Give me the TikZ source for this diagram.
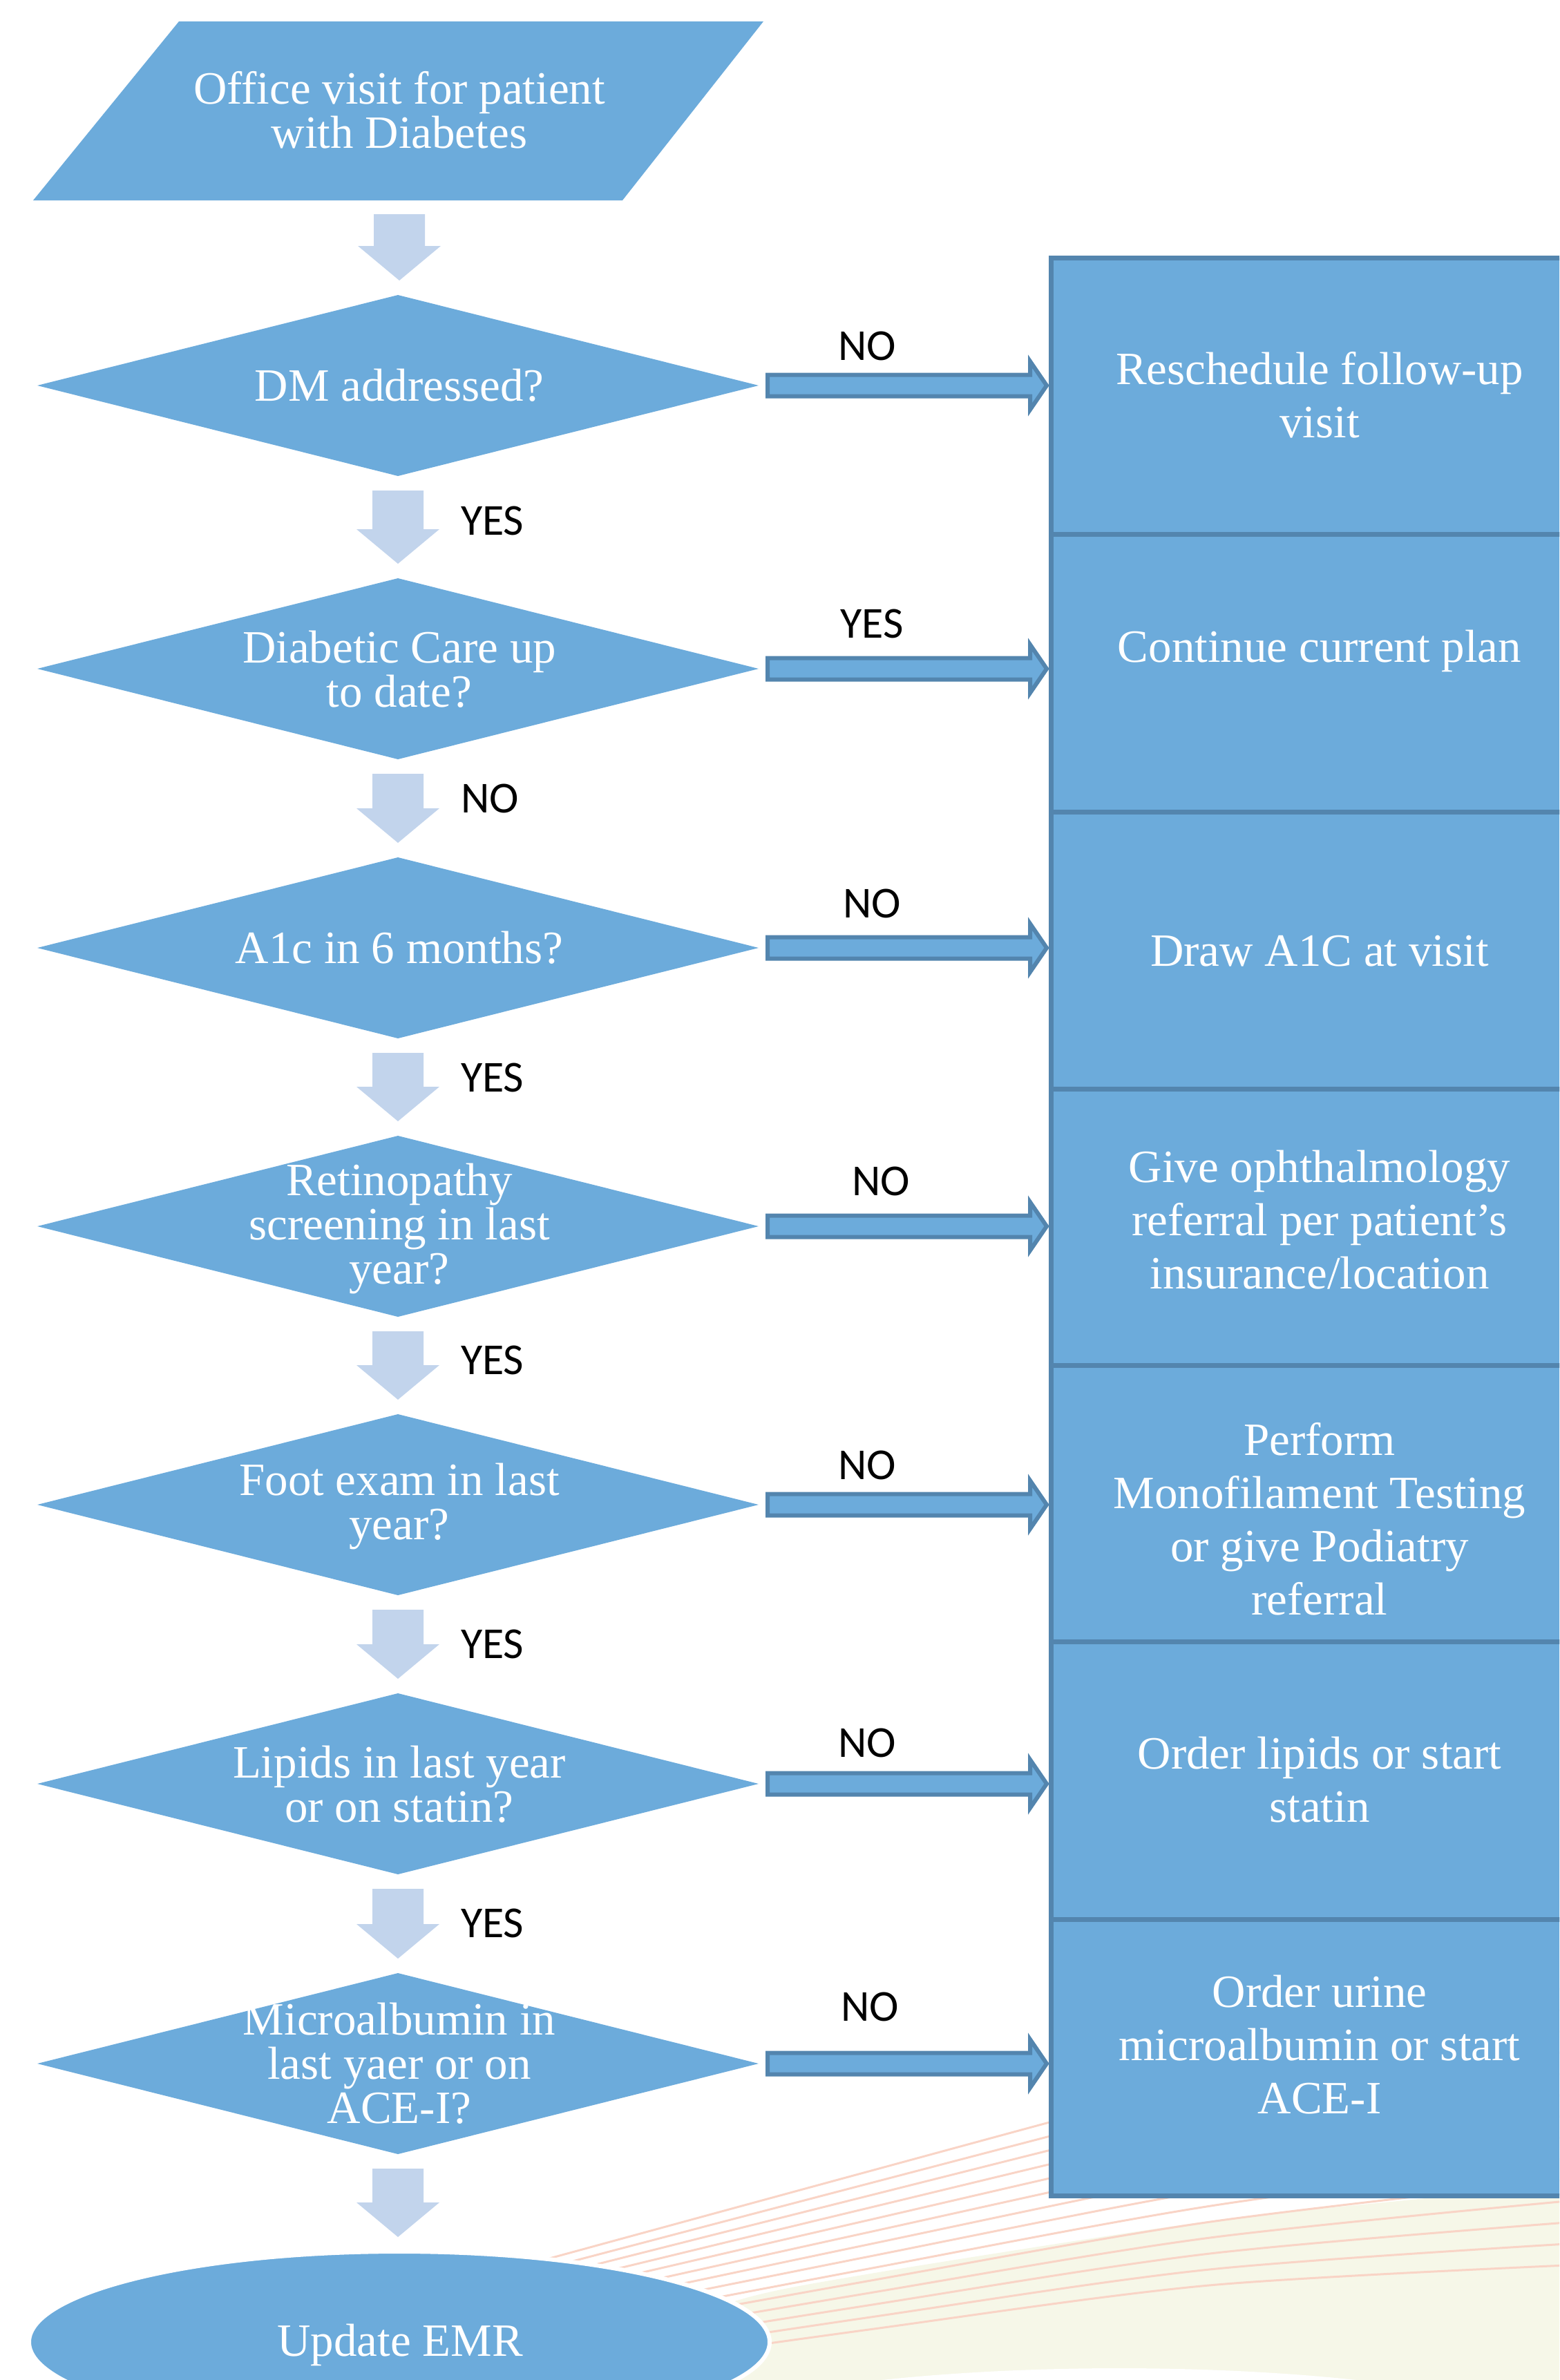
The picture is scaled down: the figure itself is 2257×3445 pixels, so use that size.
\documentclass[tikz,border=0pt]{standalone}
\usepackage{fontspec}
\setmainfont{Liberation Serif}
\newfontfamily\lblfont{Carlito}
\usetikzlibrary{shapes.geometric,calc}

\definecolor{mainblue}{RGB}{108,171,219}
\definecolor{edgeblue}{RGB}{83,133,174}
\definecolor{paleblue}{RGB}{194,212,236}
\definecolor{creamfill}{RGB}{246,247,232}
\definecolor{salmonline}{RGB}{249,212,198}

% block arrow pointing right, from node #1 (east) to node #2 (west)
\newcommand\flowRight[2]{%
  \path[rightarr] let \p1=(#1.east), \p2=(#2.west) in
    (\x1+13pt,\y1+15.5pt) -- (\x2-30pt,\y1+15.5pt) -- (\x2-30pt,\y1+35pt) --
    (\x2-6pt,\y1) -- (\x2-30pt,\y1-35pt) -- (\x2-30pt,\y1-15.5pt) --
    (\x1+13pt,\y1-15.5pt) -- cycle;}
% block arrow pointing down, from node #1 (south) to node #2 (north)
\newcommand\flowDown[2]{%
  \path[downarr] let \p1=(#1.south), \p2=(#2.north) in
    (\x1-37pt,\y1-21pt) -- (\x1+37pt,\y1-21pt) -- (\x1+37pt,\y2+71pt) --
    (\x1+60pt,\y2+71pt) -- (\x1,\y2+21pt) -- (\x1-60pt,\y2+71pt) --
    (\x1-37pt,\y2+71pt) -- cycle;}

\begin{document}
\begin{tikzpicture}[x=1pt,y=1pt,
  every node/.style={inner sep=0pt,outer sep=0pt},
  decision/.style={diamond, fill=mainblue, minimum width=1044pt, minimum height=262pt},
  sertext/.style={text=white, align=center, font={\fontsize{67}{64}\selectfont}},
  boxtext/.style={text=white, align=center, font={\fontsize{67}{77}\selectfont}},
  actbox/.style={rectangle, draw=edgeblue, line width=7pt, fill=mainblue,
                 minimum width=780pt, anchor=north west},
  lbl/.style={font={\lblfont\fontsize{64}{64}\selectfont}, text=black},
  downarr/.style={fill=paleblue},
  rightarr/.style={fill=mainblue, draw=edgeblue, line width=6pt},
  bgline/.style={draw=salmonline, line width=3pt}
]
\useasboundingbox (0,0) rectangle (2257,-3445);
\clip (0,0) rectangle (2257,-3445);

% ---------- background decoration ----------
\fill[creamfill] plot[smooth] coordinates {(880,-3410) (1060,-3332) (1260,-3291) (1750,-3215) (2080,-3180) (2300,-3150)}
  -- (2300,-3500) -- (880,-3500) -- cycle;
\foreach \i in {0,...,13}{
  \draw[bgline] plot[smooth] coordinates {(700,{-3295-\i*11.92}) (1250,{-3145-\i*17.54}) (1750,{-3010-\i*22.92}) (2300,{-2868-\i*31.5})};
}
\fill[white] (1620,-3560) ellipse [x radius=700, y radius=132];

% ---------- start ----------
\fill[mainblue] (259,-31) -- (1105,-31) -- (901,-290) -- (48,-290) -- cycle;
\node[sertext, minimum height=259pt] (start) at (578,-159.5) {Office visit for patient\\with Diabetes};

% ---------- decisions ----------
\node[decision] (d1) at (576,-558)  {};
\node[decision] (d2) at (576,-968)  {};
\node[decision] (d3) at (576,-1372) {};
\node[decision] (d4) at (576,-1775) {};
\node[decision] (d5) at (576,-2178) {};
\node[decision] (d6) at (576,-2582) {};
\node[decision] (d7) at (576,-2987) {};

\node[sertext] (d1t) at (578,-558)  {DM addressed?};
\node[sertext] (d2t) at (578,-969)  {Diabetic Care up\\to date?};
\node[sertext] (d3t) at (578,-1372) {A1c in 6 months?};
\node[sertext] (d4t) at (578,-1778) {Retinopathy\\screening in last\\year?};
\node[sertext] (d5t) at (578,-2180) {Foot exam in last\\year?};
\node[sertext] (d6t) at (578,-2583) {Lipids in last year\\or on statin?};
\node[sertext] (d7t) at (578,-2987) {Microalbumin in\\last yaer or on\\ACE-I?};

% ---------- end ----------
\node[ellipse, fill=mainblue, draw=white, line width=6pt, minimum width=1072pt, minimum height=262pt] (emr) at (578,-3390) {};
\node[sertext] (emrt) at (579,-3394) {Update EMR};

% ---------- action boxes ----------
\node[actbox, minimum height=400pt] (b1) at (1521,-373)  {};
\node[actbox, minimum height=402pt] (b2) at (1521,-773)  {};
\node[actbox, minimum height=401pt] (b3) at (1521,-1175) {};
\node[actbox, minimum height=400pt] (b4) at (1521,-1576) {};
\node[actbox, minimum height=400pt] (b5) at (1521,-1976) {};
\node[actbox, minimum height=402pt] (b6) at (1521,-2376) {};
\node[actbox, minimum height=400pt] (b7) at (1521,-2778) {};

\node[boxtext] (b1t) at (1910,-572)  {Reschedule follow-up\\visit};
\node[boxtext] (b2t) at (1910,-942)  {Continue current plan};
\node[boxtext] (b3t) at (1910,-1377) {Draw A1C at visit};
\node[boxtext] (b4t) at (1910,-1766) {Give ophthalmology\\referral per patient’s\\insurance/location};
\node[boxtext] (b5t) at (1910,-2199) {Perform\\Monofilament Testing\\or give Podiatry\\referral};
\node[boxtext] (b6t) at (1910,-2576) {Order lipids or start\\statin};
\node[boxtext] (b7t) at (1910,-2960) {Order urine\\microalbumin or start\\ACE-I};

% ---------- down connectors ----------
\flowDown{start}{d1}
\flowDown{d1}{d2}
\flowDown{d2}{d3}
\flowDown{d3}{d4}
\flowDown{d4}{d5}
\flowDown{d5}{d6}
\flowDown{d6}{d7}
\flowDown{d7}{emr}

% ---------- right connectors ----------
\flowRight{d1}{b1}
\flowRight{d2}{b2}
\flowRight{d3}{b3}
\flowRight{d4}{b4}
\flowRight{d5}{b5}
\flowRight{d6}{b6}
\flowRight{d7}{b7}

% ---------- labels ----------
\node[lbl, anchor=west] (l12) at (667,-754)  {YES};
\node[lbl, anchor=west] (l23) at (667,-1156) {NO};
\node[lbl, anchor=west] (l34) at (667,-1560) {YES};
\node[lbl, anchor=west] (l45) at (667,-1969) {YES};
\node[lbl, anchor=west] (l56) at (667,-2380) {YES};
\node[lbl, anchor=west] (l67) at (667,-2784) {YES};

\node[lbl] (r1) at (1255,-501)  {NO};
\node[lbl] (r2) at (1262,-903)  {YES};
\node[lbl] (r3) at (1262,-1308) {NO};
\node[lbl] (r4) at (1275,-1710) {NO};
\node[lbl] (r5) at (1255,-2121) {NO};
\node[lbl] (r6) at (1255,-2523) {NO};
\node[lbl] (r7) at (1259,-2905) {NO};
\end{tikzpicture}
\end{document}
